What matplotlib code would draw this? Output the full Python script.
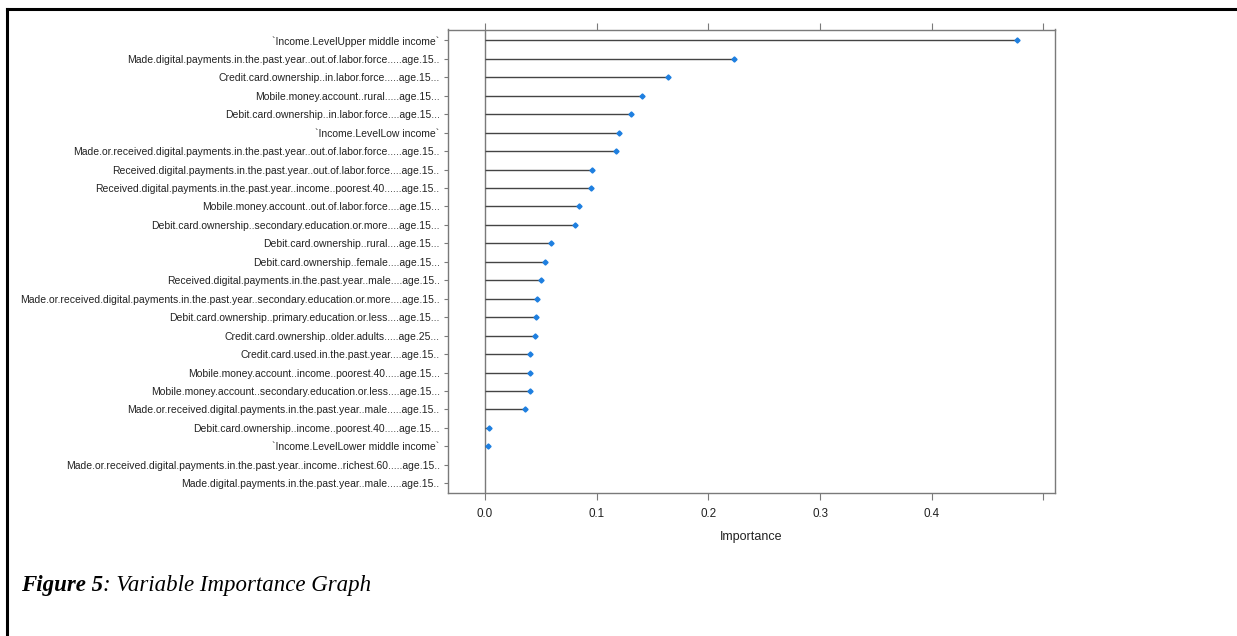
import matplotlib
matplotlib.use("Agg")
import matplotlib.pyplot as plt
from matplotlib.lines import Line2D

# ---------- data (top to bottom, as in the plot) ----------
variables = [
    "`Income.LevelUpper middle income`",
    "Made.digital.payments.in.the.past.year..out.of.labor.force.....age.15..",
    "Credit.card.ownership..in.labor.force.....age.15...",
    "Mobile.money.account..rural.....age.15...",
    "Debit.card.ownership..in.labor.force....age.15...",
    "`Income.LevelLow income`",
    "Made.or.received.digital.payments.in.the.past.year..out.of.labor.force.....age.15..",
    "Received.digital.payments.in.the.past.year..out.of.labor.force....age.15..",
    "Received.digital.payments.in.the.past.year..income..poorest.40......age.15..",
    "Mobile.money.account..out.of.labor.force....age.15...",
    "Debit.card.ownership..secondary.education.or.more....age.15...",
    "Debit.card.ownership..rural....age.15...",
    "Debit.card.ownership..female....age.15...",
    "Received.digital.payments.in.the.past.year..male....age.15..",
    "Made.or.received.digital.payments.in.the.past.year..secondary.education.or.more....age.15..",
    "Debit.card.ownership..primary.education.or.less....age.15...",
    "Credit.card.ownership..older.adults.....age.25...",
    "Credit.card.used.in.the.past.year....age.15..",
    "Mobile.money.account..income..poorest.40.....age.15...",
    "Mobile.money.account..secondary.education.or.less....age.15...",
    "Made.or.received.digital.payments.in.the.past.year..male.....age.15..",
    "Debit.card.ownership..income..poorest.40.....age.15...",
    "`Income.LevelLower middle income`",
    "Made.or.received.digital.payments.in.the.past.year..income..richest.60.....age.15..",
    "Made.digital.payments.in.the.past.year..male.....age.15..",
]
importance = [0.476, 0.223, 0.164, 0.141, 0.131, 0.120, 0.117, 0.096, 0.095,
              0.084, 0.081, 0.059, 0.054, 0.050, 0.047, 0.046, 0.045, 0.040,
              0.040, 0.040, 0.036, 0.004, 0.003, 0.0, 0.0]

x_ticks = [0.0, 0.1, 0.2, 0.3, 0.4, 0.5]
x_tick_labels = ["0.0", "0.1", "0.2", "0.3", "0.4", ""]

# ---------- figure ----------
W, H = 1237, 636
fig = plt.figure(figsize=(W / 100, H / 100), dpi=100)
plt.rcParams["font.family"] = ["Liberation Sans", "DejaVu Sans"]

# page border (top and left edges)
fig.add_artist(Line2D([7 / W, 1], [1 - 8.5 / H, 1 - 8.5 / H], color="black", lw=2.2))
fig.add_artist(Line2D([7 / W, 7 / W], [0, 1 - 8.5 / H], color="black", lw=2.2))

left, right, top, bottom = 448, 1055, 29.5, 493
ax = fig.add_axes([left / W, 1 - bottom / H, (right - left) / W, (bottom - top) / H])

n = len(variables)
ypos = [n - i for i in range(n)]
frame = "#7a7a7a"

ax.axvline(0, color=frame, lw=1.0, zorder=1)
ax.hlines(ypos, 0, importance, color="#444444", lw=1.0, zorder=2)
dots_y = [y for y, v in zip(ypos, importance) if v > 0]
dots_x = [v for v in importance if v > 0]
ax.plot(dots_x, dots_y, "D", color="#1e7fe0", ms=2.6, mec="#1e7fe0", zorder=3)

ax.set_xlim(-0.0331, 0.5103)
ax.set_ylim(1 - 9.7 / 18.46, n + 10.8 / 18.46)

ax.set_yticks(ypos)
ax.set_yticklabels(variables, fontsize=7.5, color="#222222")
ax.set_xticks(x_ticks)
ax.set_xticklabels(x_tick_labels, fontsize=8.4, color="#222222")
ax.tick_params(axis="x", top=True, direction="out", length=5, color=frame, pad=6)
ax.tick_params(axis="y", direction="out", length=3, color=frame, pad=3)
ax.set_xlabel("Importance", fontsize=9, color="#222222", labelpad=8)

for s in ax.spines.values():
    s.set_color(frame)
    s.set_linewidth(1.0)

# caption: bold italic part + italic part
cap_y = 1 - 585 / H
t1 = fig.text(21 / W, cap_y, "Figure 5", fontsize=16.5, family="Liberation Serif",
              weight="bold", style="italic", va="center")
fig.canvas.draw()
bb = t1.get_window_extent()
fig.text(bb.x1 / W, cap_y, ": Variable Importance Graph", fontsize=16.5,
         family="Liberation Serif", style="italic", va="center")

fig.savefig("out.png", dpi=100)
